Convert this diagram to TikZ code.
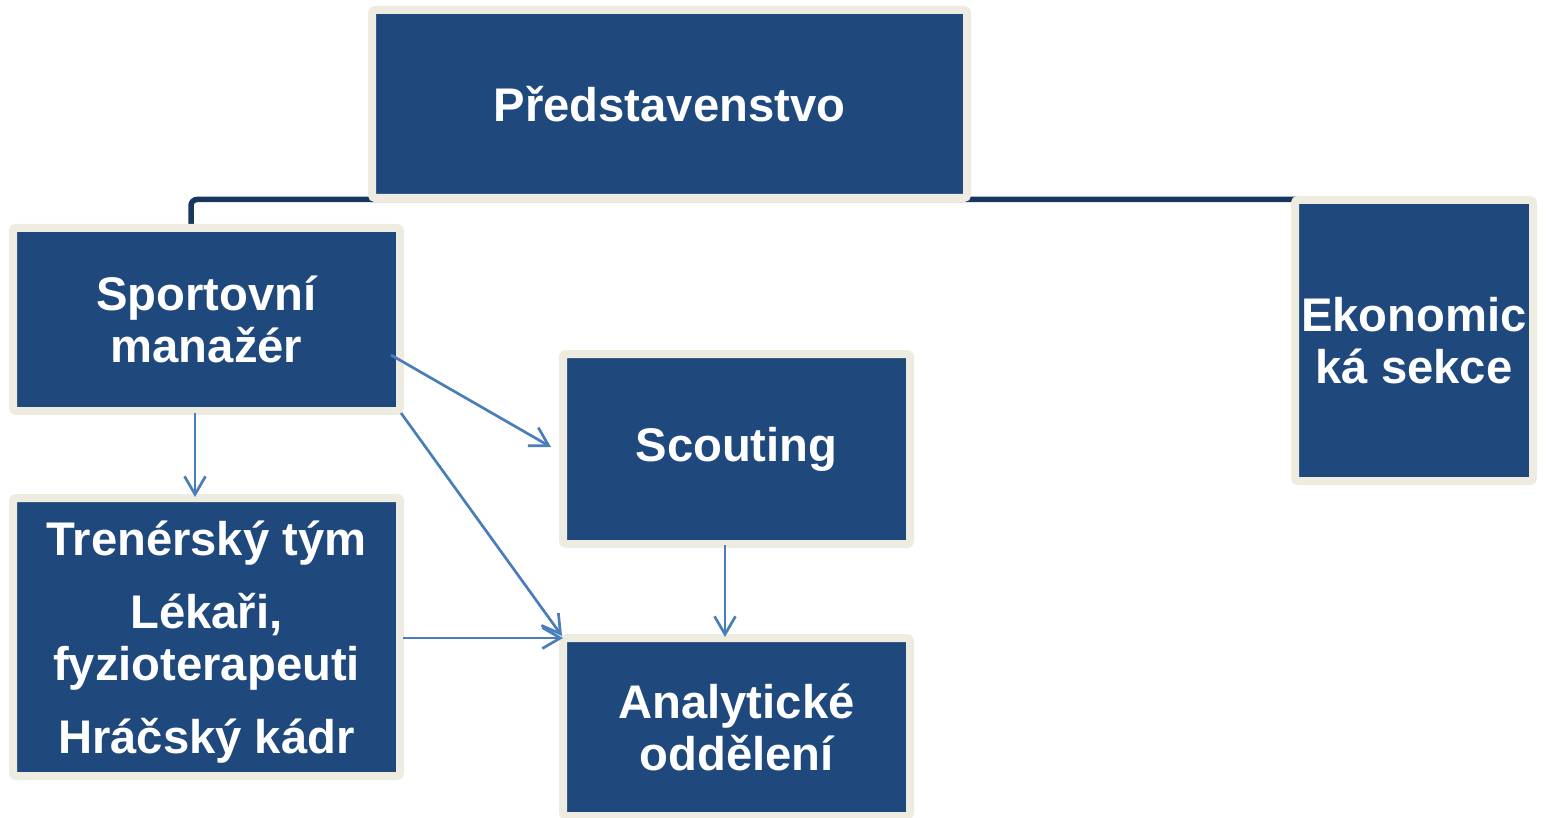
\documentclass[tikz,border=0pt]{standalone}
\usepackage{fontspec}
\setmainfont{Liberation Sans}
\usetikzlibrary{arrows.meta}
\definecolor{boxblue}{HTML}{1F497D}
\definecolor{cream}{HTML}{EEECE1}
\definecolor{navy}{HTML}{17375E}
\definecolor{arrowblue}{HTML}{4A7EBB}
\tikzset{
  boxtext/.style={inner sep=0pt, outer sep=0pt, align=center, text=white,
    font=\fontsize{23.6}{26}\selectfont\bfseries},
  orgbox/.style={boxtext, draw=cream, fill=boxblue, line width=4pt, rounded corners=1.5pt},
  conn/.style={draw=navy, line width=2.75pt, rounded corners=3pt},
  arr/.style={draw=arrowblue, line width=1.35pt,
    -{Straight Barb[length=9pt,width=10.5pt,line width=1.35pt]}}
}
\begin{document}
\begin{tikzpicture}[x=0.5pt,y=-0.5pt]
\useasboundingbox (0,0) rectangle (1546,818);
% junction points of the top connector
\coordinate (j1) at (191,199.5);
\coordinate (j2) at (1296,199.5);
\draw[conn] (j2) -- (j1) -- (191,228);
% boxes
\node[orgbox, minimum width=297.5pt, minimum height=94pt] (pred) at (669.5,104) {Představenstvo};
\node[orgbox, minimum width=193.5pt, minimum height=91.5pt] (sport) at (206.5,319.5) {Sportovní\\manažér};
\node[orgbox, minimum width=119pt, minimum height=140.5pt] (ekon) at (1414,340.5) {Ekonomic\\ká sekce};
\node[orgbox, minimum width=173.5pt, minimum height=95pt] (scout) at (736.5,449) {Scouting};
\node[orgbox, minimum width=193.5pt, minimum height=139pt] (tren) at (206.5,637) {};
\node[boxtext] (trentext) at (206.5,642) {Trenérský tým\\[10.5pt]Lékaři,\\fyzioterapeuti\\[10.5pt]Hráčský kádr};
\node[orgbox, minimum width=173.5pt, minimum height=89pt] (anal) at (736.5,727) {Analytické\\oddělení};
% arrows
\draw[arr] ([xshift=-4.5pt,yshift=-17.75pt]sport.east) -- ([xshift=-6pt,yshift=1pt]scout.west);
\draw[arr] ([xshift=0.5pt,yshift=-1pt]sport.south east) -- ([xshift=-0.5pt,yshift=1pt]anal.north west);
\draw[arr] ([xshift=-5.75pt,yshift=-1pt]sport.south) -- ([xshift=-5.75pt,yshift=0.5pt]tren.north);
\draw[arr] ([xshift=-5.75pt,yshift=-0.5pt]scout.south) -- ([xshift=-5.75pt,yshift=0.5pt]anal.north);
\draw[arr] ([xshift=1.5pt,yshift=-0.5pt]tren.east) -- ([yshift=-0.5pt]tren.east -| anal.west);
\end{tikzpicture}
\end{document}
